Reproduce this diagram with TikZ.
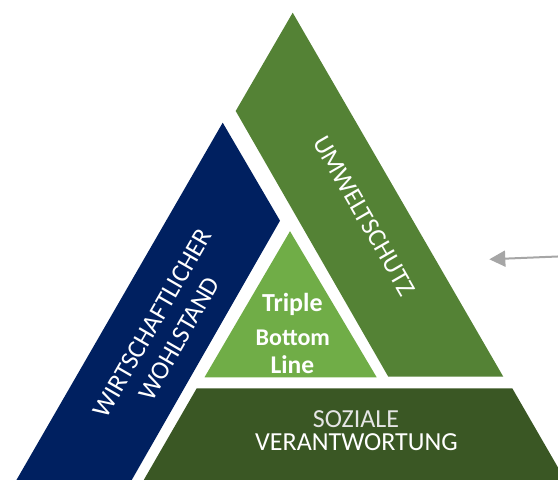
\documentclass[tikz,border=0pt]{standalone}
\usepackage{fontspec}
\setmainfont{Carlito}
\usetikzlibrary{arrows.meta}
\definecolor{econblue}{HTML}{002060}
\definecolor{ecogreen}{HTML}{548235}
\definecolor{coregreen}{HTML}{70AD47}
\definecolor{socialgreen}{HTML}{3A5724}
\definecolor{pointer}{HTML}{A6A6A6}
\begin{document}
\begin{tikzpicture}[x=1pt,y=-1pt,
  caps/.style={text=white, inner sep=0pt, align=center,
    font=\fontsize{26}{31}\selectfont},
  core/.style={text=white, inner sep=0pt, anchor=base}]
\useasboundingbox (0,0) rectangle (558,480);
\begin{scope}
  \clip (0,0) rectangle (558,480);
  % economic pillar (left)
  \fill[econblue] (222.7,122.7) -- (280,220.7) -- (120.3,500) -- (4.9,500) -- cycle;
  % environmental pillar (top right)
  \fill[ecogreen] (292.7,12.7) -- (235.7,111) -- (388.3,376.7) -- (503.3,376.7) -- cycle;
  % social pillar (bottom)
  \fill[socialgreen] (196.7,388.3) -- (512.3,388.3) -- (576.8,500) -- (132.2,500) -- cycle;
  % centre triangle
  \fill[coregreen] (290,231.2) -- (376.7,377.3) -- (204.5,377.3) -- cycle;
\end{scope}

\node[caps, rotate=-60] (eco) at (364.2,215.8) {UMWELTSCHUTZ};
\node[caps, rotate=60] (econ) at (165.8,330.8) {WIRTSCHAFTLICHER\\WOHLSTAND};
\node[caps, text=white!90!black, anchor=base] (soz1) at (356,427.3) {SOZIALE};
\node[caps, anchor=base] (soz2) at (356.5,450.7) {VERANTWORTUNG};

\node[core, font=\fontsize{26}{30}\selectfont\bfseries] (tbl1) at (292.3,311.7) {Triple};
\node[core, font=\fontsize{24}{28}\selectfont\bfseries] (tbl2) at (292.8,345) {Bottom};
\node[core, font=\fontsize{25.5}{30}\selectfont\bfseries] (tbl3) at (292.3,373.3) {Line};

\coordinate (ptrFrom) at (560,256.4);
\coordinate (ptrTo) at (489.3,259.3);
\draw[pointer, line width=2pt, -{Triangle[length=16pt,width=16pt]}] (ptrFrom) -- (ptrTo);
\end{tikzpicture}
\end{document}
